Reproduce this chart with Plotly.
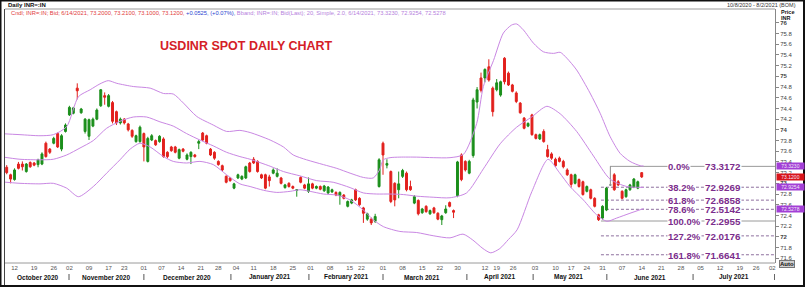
import plotly.graph_objects as go

# ---------------- data ----------------
opens = [73.30,73.16,73.07,73.36,73.36,73.22,73.39,73.38,73.35,73.36,73.75,73.64,73.75,73.93,73.64,73.97,74.28,74.31,74.78,74.32,
         73.97,73.88,74.07,74.20,74.45,74.64,74.44,74.51,74.34,74.13,74.20,74.11,73.99,73.78,73.78,73.93,73.41,73.81,73.80,73.78,
         73.83,73.58,73.68,73.68,73.47,73.64,73.45,73.50,73.53,73.75,73.94,73.89,73.64,73.58,73.41,73.33,73.13,73.10,72.91,73.10,
         73.08,73.10,73.38,73.45,73.41,73.16,73.16,73.12,73.19,73.13,73.10,72.92,73.00,72.94,72.87,73.11,72.97,72.85,72.99,72.91,
         72.94,72.86,72.82,72.84,72.83,72.77,72.78,72.57,72.63,72.88,72.72,72.54,72.33,72.33,72.29,72.94,73.75,73.34,73.22,73.00,
         72.88,73.13,73.19,72.94,72.63,72.68,72.45,72.57,72.43,72.54,72.44,72.32,72.45,72.64,72.49,72.77,73.53,73.41,73.19,73.52,
         74.52,74.97,74.97,75.18,74.78,74.75,74.65,75.34,75.06,74.84,74.69,74.50,74.22,74.07,74.28,73.91,73.83,73.97,73.63,73.55,
         73.45,73.47,73.41,73.25,73.16,73.00,73.07,73.03,72.85,72.88,72.72,72.41,72.35,72.50,72.97,73.16,73.03,72.85,72.75,72.88,
         72.93,72.91,73.20]
highs = [73.34,73.18,73.28,73.40,73.41,73.38,73.41,73.40,73.46,73.58,73.78,73.66,73.87,73.95,73.92,74.12,74.45,74.43,74.87,74.41,
         74.22,74.21,74.23,74.40,74.76,74.70,74.67,74.54,74.36,74.23,74.22,74.13,74.01,73.91,74.08,73.95,73.87,73.92,73.82,73.90,
         73.86,73.60,73.70,73.70,73.65,73.66,73.56,73.60,73.55,73.81,73.96,73.91,73.66,73.60,73.43,73.35,73.15,73.12,73.01,73.18,
         73.15,73.33,73.40,73.49,73.43,73.18,73.18,73.16,73.28,73.28,73.12,72.99,73.02,72.96,72.89,73.13,72.99,73.11,73.01,72.96,
         72.96,72.97,72.95,72.90,72.85,72.85,72.80,72.68,72.71,72.90,72.74,72.56,72.45,72.36,72.43,73.47,73.78,73.45,73.24,73.02,
         73.22,73.27,73.22,73.05,72.78,72.70,72.54,72.59,72.51,72.56,72.46,72.41,72.59,72.66,72.51,73.42,73.56,73.43,73.44,74.60,
         74.80,75.07,75.15,75.32,74.81,74.95,74.92,75.36,75.09,74.86,74.72,74.52,74.24,74.14,74.30,73.93,73.93,74.01,73.72,73.58,
         73.48,73.50,73.44,73.28,73.18,73.18,73.09,73.05,72.96,72.90,72.74,72.43,72.59,72.93,73.3172,73.19,73.06,72.87,72.90,72.99,
         73.10,73.05,73.21]
lows = [73.17,73.00,73.05,73.26,73.24,73.20,73.29,73.32,73.30,73.34,73.48,73.55,73.73,73.66,73.60,73.95,74.26,74.29,74.57,74.30,
        73.93,73.81,74.05,74.18,74.43,74.47,74.42,74.12,74.09,74.10,74.10,73.97,73.85,73.76,73.76,73.41,73.39,73.79,73.70,73.76,
        73.48,73.47,73.59,73.56,73.45,73.58,73.43,73.36,73.48,73.64,73.79,73.73,73.51,73.44,73.33,73.23,73.00,73.03,72.89,73.08,
        73.06,73.08,73.20,73.36,73.20,73.08,72.89,72.94,73.17,73.11,72.98,72.90,72.92,72.89,72.75,73.00,72.89,72.82,72.89,72.89,
        72.87,72.84,72.80,72.82,72.76,72.60,72.70,72.55,72.61,72.67,72.58,72.26,72.30,72.22,72.26,72.92,73.16,73.28,72.63,72.57,
        72.72,73.10,72.85,72.86,72.61,72.40,72.43,72.45,72.41,72.43,72.31,72.22,72.43,72.55,72.35,72.74,73.04,73.22,73.17,73.48,
        74.40,74.70,74.89,74.90,74.25,74.72,74.62,74.85,74.82,74.70,74.50,74.30,74.01,74.05,73.89,73.82,73.81,73.76,73.48,73.44,
        73.31,73.39,73.28,73.14,72.92,72.98,72.92,72.77,72.83,72.70,72.55,72.2955,72.32,72.48,72.95,72.86,72.95,72.70,72.73,72.86,
        72.91,72.89,73.10]
closes = [73.20,73.08,73.25,73.28,73.31,73.36,73.31,73.34,73.44,73.55,73.50,73.58,73.84,73.68,73.89,74.09,74.42,74.41,74.73,74.39,
          74.20,74.19,74.20,74.37,74.75,74.61,74.64,74.16,74.13,74.20,74.13,74.00,73.88,73.89,74.05,73.68,73.84,73.89,73.72,73.88,
          73.50,73.50,73.61,73.58,73.63,73.60,73.53,73.58,73.50,73.78,73.81,73.75,73.53,73.47,73.35,73.25,73.02,73.05,72.99,73.16,
          73.13,73.31,73.22,73.38,73.22,73.10,72.91,73.05,73.25,73.19,73.00,72.97,72.94,72.91,72.88,73.02,72.91,72.99,72.91,72.94,
          72.89,72.95,72.93,72.88,72.78,72.83,72.72,72.66,72.69,72.69,72.60,72.44,72.43,72.26,72.38,73.44,73.53,73.37,72.66,72.69,
          72.99,73.24,72.88,72.88,72.75,72.43,72.52,72.47,72.49,72.45,72.33,72.39,72.52,72.57,72.46,73.40,73.07,73.25,73.41,74.56,
          74.75,74.74,75.13,74.93,74.34,74.88,74.90,74.90,74.84,74.72,74.53,74.32,74.03,74.12,73.91,73.84,73.91,73.78,73.50,73.47,
          73.33,73.41,73.31,73.16,72.98,73.16,72.94,72.79,72.94,72.72,72.57,72.32,72.57,72.91,72.97,72.88,72.97,72.72,72.88,72.97,
          73.08,73.03,73.12]

# Bollinger band (20, simple, 2.0) read at sample positions (candle index, price)
upper_x = [-1.7,3.4,8.5,11.9,15.3,18.3,21.3,23.8,25.9,28.1,32.3,36.6,40,42.5,45.1,48.5,52.7,56.1,59.5,62.1,67.2,70.6,73.1,76.5,
           80.8,84.2,87.6,91,93.5,95.1,96.1,97.8,100.3,104.6,108.8,113.1,116.5,119.9,121.6,124.2,126.7,128.8,130.1,131.8,134.4,
           136.9,139.5,141.2,142.9,145.4,148.8,151.4,153.9,156.5,159,161.6,162.5]
upper_y = [73.93,73.91,73.89,73.91,74.06,74.62,74.75,74.86,74.92,74.87,74.81,74.78,74.68,74.67,74.50,74.25,74.09,73.97,73.99,73.95,
           73.81,73.68,73.53,73.44,73.35,73.28,73.19,73.11,73.10,73.25,73.44,73.48,73.49,73.49,73.48,73.48,73.54,74.12,74.81,75.30,
           75.81,75.96,75.98,75.87,75.62,75.46,75.43,75.45,75.34,75.12,74.69,74.31,73.88,73.56,73.41,73.33,73.323]
mid_x = [-1.7,3.4,8.5,11.9,15.3,18.7,22.1,25.5,28.9,32.3,35.7,39.1,42.5,45.9,49.3,52.7,56.1,59.5,62.1,67.2,70.6,74.8,79.1,83.3,
         87.6,91,94.4,97.8,101.2,104.6,108.8,113.1,117.3,121.6,125.9,130.1,133.9,137.8,141.2,145.4,149.7,153.9,158.2,162.5]
mid_y = [73.50,73.45,73.44,73.45,73.53,73.66,73.80,74.03,74.16,74.24,74.24,74.15,74.07,73.93,73.81,73.70,73.58,73.50,73.45,73.32,
         73.22,73.14,73.05,73.02,72.92,72.82,72.80,72.80,72.79,72.76,72.74,72.73,72.82,73.27,73.74,74.05,74.24,74.44,74.30,73.97,
         73.51,73.08,72.94,72.925]
lower_x = [-1.7,3.4,8.5,11.9,15.3,18.3,22.1,25.5,28.9,31.5,34,36.6,40,42.5,45.9,49.3,52.7,56.1,59.5,62.1,65.5,68.9,72.3,74.8,
           77.4,80.8,84.2,87.6,91,93.5,96.1,100.3,104.6,108.8,113.1,116.4,118.9,121.5,123.5,125.8,128,130.2,134,138.1,141,143.7,
           147.1,150.5,153.1,155.6,159,162.5]
lower_y = [73.03,73.00,72.99,73.00,72.91,72.75,72.94,73.19,73.44,73.64,73.75,73.68,73.50,73.41,73.38,73.41,73.35,73.16,72.99,72.94,
           72.87,72.83,72.85,72.88,72.85,72.80,72.78,72.69,72.50,72.32,72.19,72.10,72.08,72.02,71.98,72.05,71.94,71.78,71.70,71.78,
           71.95,72.13,72.85,73.45,73.20,72.94,72.69,72.41,72.29,72.35,72.44,72.528]

# Fibonacci retracement
fib_pct = ["0.0%", "38.2%", "61.8%", "78.6%", "100.0%", "127.2%", "161.8%"]
fib_val = [73.3172, 72.9269, 72.6858, 72.5142, 72.2955, 72.0176, 71.6641]
fib_solid = [True, False, False, False, True, False, False]
fib_start = [153.9, 151.6, 151.6, 151.6, 151.6, 151.6, 151.6]

# right-hand price tags
tag_vals = [73.3230, 73.1200, 72.9254, 72.5278]
tag_text = ["73.3230", "73.1200", "72.9254", "72.5278"]
tag_cols = ["#a23fd6", "#d8141a", "#a23fd6", "#a23fd6"]

# axis tick labels
x_tick_pos = [2, 7, 12, 16, 21, 26, 30, 35, 39.5, 44.5, 49.5, 54, 58.5, 63, 68, 73, 77.5, 82.5, 87.5, 90.5, 96, 101, 106, 110.5,
              115, 122, 125, 129.2, 134.8, 140, 144, 148, 152, 157, 162, 167, 172, 177, 182, 187, 191.2, 195.3]
x_tick_txt = ["12","19","26","02","09","17","23","01","07","14","21","28","04","11","18","25","01","08","15","22","01","08","15","22",
              "30","12","19","26","03","10","17","24","31","07","14","21","28","05","12","19","26","02"]
month_pos = [7.9, 25.3, 46.1, 67.2, 86.6, 105.9, 125.6, 143.4, 164.1, 185.5]
month_txt = ["October 2020", "November 2020", "December 2020", "January 2021", "February 2021",
             "March 2021", "April 2021", "May 2021", "June 2021", "July 2021"]
month_sep = [15.9, 35, 57.2, 77.1, 96, 117.4, 134.3, 153.1, 175.1, 195.9]
y_tick_vals = [71.6, 71.8, 72.0, 72.2, 72.4, 72.6, 72.8, 73.0, 73.2, 73.4, 73.6, 73.8, 74.0, 74.2, 74.4, 74.6, 74.8,
               75.0, 75.2, 75.4, 75.6, 75.8, 76.0]
y_tick_txt = ["71.6", "71.8", "<b>72</b>", "72.2", "72.4", "72.6", "72.8", "<b>73</b>", "73.2", "73.4", "73.6", "73.8",
              "<b>74</b>", "74.2", "74.4", "74.6", "74.8", "<b>75</b>", "75.2", "75.4", "75.6", "75.8", "<b>76</b>"]

# ---------------- figure ----------------
W, H = 805, 287
ML, MR, MT, MB = 5, 30, 9, 24
PW, PH = W - ML - MR, H - MT - MB
def px(xp):
    return (xp - ML) / PW
def py(yp):
    return (H - MB - yp) / PH

X_RANGE = [-0.43, 196.0]
Y_RANGE = [71.51, 76.26]

idx = list(range(len(opens)))
flat = [i for i in idx if opens[i] == closes[i]]
moving = [i for i in idx if opens[i] != closes[i]]

GREEN = "#1b8f1b"
RED = "#e2201d"
BAND = "#c987e3"
FIB = "#7b2d8c"

fig = go.Figure()
for bx, by in [(upper_x, upper_y), (mid_x, mid_y), (lower_x, lower_y)]:
    fig.add_trace(go.Scatter(x=bx, y=by, mode="lines", line=dict(color=BAND, width=1, shape="spline", smoothing=0.7),
                             hoverinfo="skip", showlegend=False))

fig.add_trace(go.Candlestick(
    x=[i for i in moving], open=[opens[i] for i in moving], high=[highs[i] for i in moving],
    low=[lows[i] for i in moving], close=[closes[i] for i in moving],
    increasing=dict(line=dict(color=GREEN, width=1), fillcolor=GREEN),
    decreasing=dict(line=dict(color=RED, width=1), fillcolor=RED),
    whiskerwidth=0, showlegend=False))
if flat:
    fig.add_trace(go.Candlestick(
        x=flat, open=[opens[i] for i in flat], high=[highs[i] for i in flat],
        low=[lows[i] for i in flat], close=[closes[i] for i in flat],
        increasing=dict(line=dict(color="#8c8c8c", width=1), fillcolor="#8c8c8c"),
        decreasing=dict(line=dict(color="#8c8c8c", width=1), fillcolor="#8c8c8c"),
        whiskerwidth=0, showlegend=False))

shapes = []
# fib lines
for v, solid, x0 in zip(fib_val, fib_solid, fib_start):
    shapes.append(dict(type="line", xref="x", yref="y", x0=x0, x1=X_RANGE[1], y0=v, y1=v,
                       line=dict(color="#9a9a9a" if solid else "#8e6f9e", width=1, dash="solid" if solid else "3px,2px"),
                       layer="below"))
# plot frame
shapes.append(dict(type="line", xref="paper", yref="paper", x0=0, x1=1, y0=1, y1=1, line=dict(color="#9a9a9a", width=1)))
shapes.append(dict(type="line", xref="paper", yref="paper", x0=0, x1=1, y0=0, y1=0, line=dict(color="#9a9a9a", width=1)))
shapes.append(dict(type="line", xref="paper", yref="paper", x0=px(4.5), x1=px(4.5), y0=py(9), y1=py(285), line=dict(color="#444", width=1)))
# outer border
shapes.append(dict(type="rect", xref="paper", yref="paper", x0=px(0.5), x1=px(804), y0=py(286), y1=py(0.5),
                   line=dict(color="#111", width=2)))
# month separators
for m in month_sep:
    shapes.append(dict(type="line", xref="x", yref="paper", x0=m, x1=m, y0=py(274), y1=py(280),
                       line=dict(color="#555", width=1)))

ann = []
# month labels
for m, t in zip(month_pos, month_txt):
    ann.append(dict(x=m, y=py(277), xref="x", yref="paper", text="<b>" + t + "</b>", showarrow=False,
                    font=dict(family="Liberation Sans", size=6.5, color="#111"), xanchor="center", yanchor="middle"))
# fib labels
for p, v in zip(fib_pct, fib_val):
    ann.append(dict(x=168.4, y=v, xref="x", yref="y", text="<b>" + p + "</b>", showarrow=False, xanchor="left",
                    yanchor="middle", bgcolor="white", borderpad=0, height=8,
                    font=dict(family="Liberation Sans", size=9.5, color=FIB)))
    ann.append(dict(x=177.8, y=v, xref="x", yref="y", text="<b>" + format(v, ".4f") + "</b>", showarrow=False,
                    xanchor="left", yanchor="middle", bgcolor="white", borderpad=0, height=8,
                    font=dict(family="Liberation Sans", size=9.8, color=FIB)))
# price tags
for v, t, c in zip(tag_vals, tag_text, tag_cols):
    ann.append(dict(x=px(776), y=v, xref="paper", yref="y", text=t, showarrow=False, xanchor="left", yanchor="middle",
                    bgcolor=c, borderpad=0, width=27, height=5.5, align="center",
                    font=dict(family="Liberation Sans", size=5, color="#f4e9f8")))
# title
ann.append(dict(x=px(246.5), y=py(46), xref="paper", yref="paper", text="<b>USDINR SPOT DAILY CHART</b>",
                showarrow=False, xanchor="center", yanchor="middle",
                font=dict(family="Liberation Sans", size=12.5, color="#d42027")))
# header texts
ann.append(dict(x=px(6), y=py(4.5), xref="paper", yref="paper", text="<b>Daily INR=:IN</b>", showarrow=False,
                xanchor="left", yanchor="middle", font=dict(family="Liberation Sans", size=6, color="#111")))
ann.append(dict(x=px(798), y=py(4.5), xref="paper", yref="paper", text="10/8/2020 - 8/2/2021 (BOM)", showarrow=False,
                xanchor="right", yanchor="middle", font=dict(family="Liberation Sans", size=5.5, color="#333")))
legend_txt = ('<span style="color:#e23b3b">Cndl; INR=:IN; Bid; 6/14/2021, 73.2000, 73.2100, 73.1000, 73.1200, </span>'
              '<span style="color:#2a3fd0">+0.0525, (+0.07%), </span>'
              '<span style="color:#b67fdd">Bband; INR=:IN; Bid(Last); 20, Simple, 2.0, 6/14/2021, 73.3230, 72.9254, 72.5278</span>')
ann.append(dict(x=px(9), y=py(13.5), xref="paper", yref="paper", text=legend_txt, showarrow=False,
                xanchor="left", yanchor="middle", font=dict(family="Liberation Sans", size=5.75)))
ann.append(dict(x=px(779), y=py(12), xref="paper", yref="paper", text="<b>Price</b>", showarrow=False,
                xanchor="left", yanchor="middle", font=dict(family="Liberation Sans", size=5.5, color="#111")))
ann.append(dict(x=px(779), y=py(17.5), xref="paper", yref="paper", text="<b>INR</b>", showarrow=False,
                xanchor="left", yanchor="middle", font=dict(family="Liberation Sans", size=5.5, color="#111")))
ann.append(dict(x=px(779), y=py(264), xref="paper", yref="paper", text="<b>Auto</b>", showarrow=False,
                xanchor="left", yanchor="middle", bgcolor="#cfcfcf", bordercolor="#777", borderwidth=1, borderpad=0,
                font=dict(family="Liberation Sans", size=6, color="#111")))

fig.update_layout(
    width=W, height=H, margin=dict(l=ML, r=MR, t=MT, b=MB),
    paper_bgcolor="white", plot_bgcolor="white", showlegend=False,
    shapes=shapes, annotations=ann,
    xaxis=dict(range=X_RANGE, showgrid=False, zeroline=False, rangeslider=dict(visible=False),
               tickmode="array", tickvals=x_tick_pos, ticktext=x_tick_txt, ticks="", showline=False,
               tickfont=dict(family="Liberation Sans", size=6, color="#555")),
    yaxis=dict(range=Y_RANGE, side="right", showgrid=False, zeroline=False, showline=True, linecolor="#888",
               linewidth=1, ticks="outside", ticklen=3, tickcolor="#888", tickmode="array",
               tickvals=y_tick_vals, ticktext=y_tick_txt,
               tickfont=dict(family="Liberation Sans", size=6, color="#444")),
)

fig.write_html("out.html")
